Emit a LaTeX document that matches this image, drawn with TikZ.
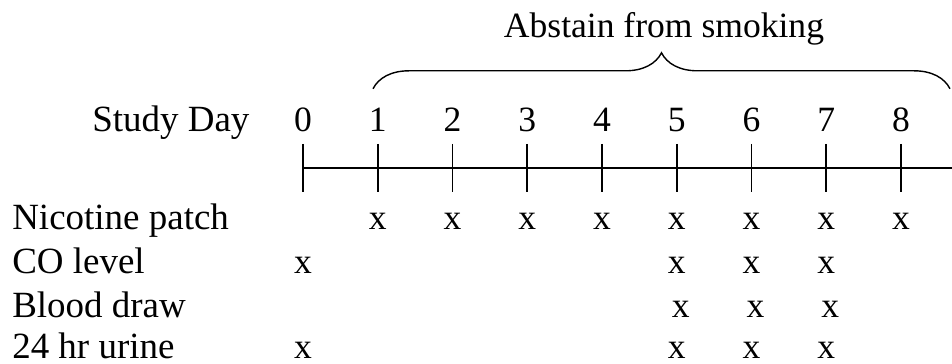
\documentclass[tikz,border=0pt]{standalone}
\usepackage{fontspec}
\setmainfont{Liberation Serif}
\usetikzlibrary{decorations.pathreplacing,positioning}

\begin{document}
\begin{tikzpicture}[
  font=\fontsize{25.3}{30}\selectfont,
  lbl/.style={anchor=base west, inner sep=0pt, font=\fontsize{26.3}{31}\selectfont},
  daynum/.style={anchor=base, inner sep=0pt},
  mk/.style={anchor=base, inner sep=0pt},
  axis/.style={draw=black, line width=1.2pt},
  brc/.style={draw=black, line width=1pt, decorate,
              decoration={brace, amplitude=0.9cm}}
]
\useasboundingbox (0,0) rectangle (23.8,-9.1);

% time axis with one tick per day
\coordinate (a0) at (7.575,-4.2);
\coordinate (a1) at (23.8,-4.2);
\draw[axis] (a0) -- (a1);
\foreach \i in {0,...,8} {
  \coordinate (t\i) at ({7.575+1.869*\i},-4.2);
  \draw[axis] ([yshift=0.6cm]t\i) -- ([yshift=-0.6cm]t\i);
  \node[daynum] (d\i) at ({7.575+1.869*\i},-3.3) {\i};
}
\node[lbl] (sd) at (2.3,-3.3) {Study Day};

% smoking abstinence span
\coordinate (bl) at (9.325,-2.22);
\coordinate (br) at (23.75,-2.22);
\draw[brc] (bl) -- (br);
\node[daynum] (abs) at (16.6,-0.93) {Abstain from smoking};

% rows
\node[lbl] (np) at (0.3,-5.75) {Nicotine patch};
\node[lbl] (co) at (0.3,-6.85) {CO level};
\node[lbl] (bd) at (0.3,-7.93) {Blood draw};
\node[lbl] (ur) at (0.3,-8.97) {24 hr urine};

\foreach \i in {1,...,8}
  \node[mk] (np\i) at ({7.575+1.869*\i},-5.75) {x};
\foreach \i in {0,5,6,7}
  \node[mk] (co\i) at ({7.575+1.869*\i},-6.85) {x};
\foreach \i in {5,6,7}
  \node[mk] (bd\i) at ({7.675+1.869*\i},-7.93) {x};
\foreach \i in {0,5,6,7}
  \node[mk] (ur\i) at ({7.575+1.869*\i},-8.97) {x};
\end{tikzpicture}
\end{document}
